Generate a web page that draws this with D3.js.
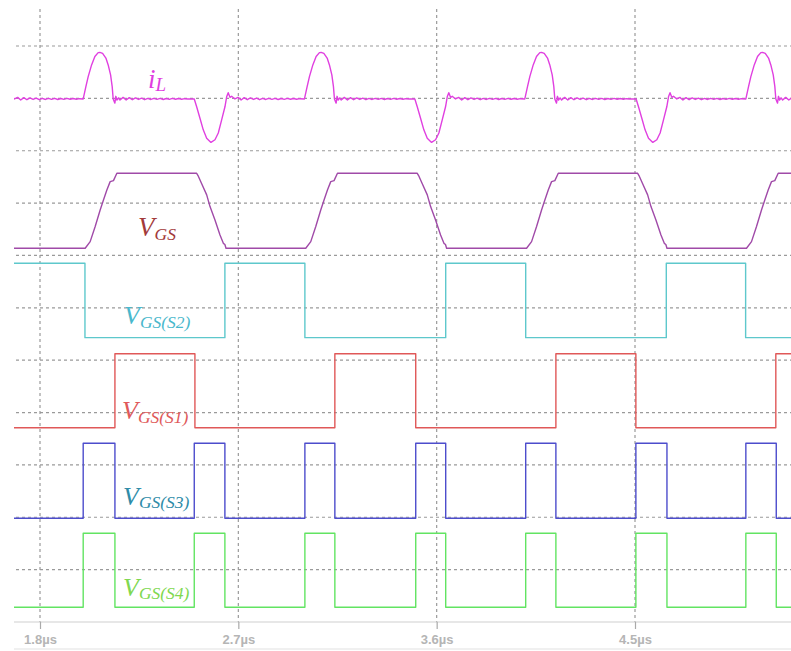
<!DOCTYPE html>
<html><head><meta charset="utf-8">
<script src="https://cdn.jsdelivr.net/npm/d3@7"></script>
<style>html,body{margin:0;padding:0;background:#fff;} svg{display:block;}</style>
</head><body>
<svg id="chart" width="791" height="651"></svg>
<script>
// ================= DATA (time in µs) =================
const timeRange = [1.682, 5.21];
const tickValues = [1.8, 2.7, 3.6, 4.5];
const tickLabels = ["1.8µs", "2.7µs", "3.6µs", "4.5µs"];
const gridDivisions = [1, 2, 3, 4, 5, 6, 7, 8, 9, 10, 11];

// gate signals: intervals where the signal is high
const s1High = [[2.140, 2.503], [3.138, 3.505], [4.141, 4.504], [5.139, 5.40]];
const s2High = [[1.600, 2.004], [2.639, 3.002], [3.641, 4.004], [4.642, 5.002]];
const s3High = [[1.996, 2.140], [2.500, 2.639], [3.002, 3.138], [3.505, 3.641], [4.004, 4.141], [4.504, 4.645], [5.003, 5.141]];
const s4High = [[1.996, 2.140], [2.500, 2.639], [3.002, 3.138], [3.505, 3.641], [4.004, 4.141], [4.504, 4.645], [5.003, 5.141]];

// VGS: edge start times and measured edge shapes [dt, fraction of high level]
const vgsRiseStart = [2.005, 3.006, 4.008, 5.006];
const vgsFallStart = [2.511, 3.512, 4.512];
const vgsRiseShape = [[0, 0], [0.0227, 0.089], [0.0454, 0.29], [0.068, 0.511], [0.083, 0.645], [0.0984, 0.778], [0.1134, 0.889], [0.1284, 0.902], [0.1438, 1]];
const vgsFallShape = [[0, 1], [0.006, 0.97], [0.0227, 0.86], [0.0454, 0.712], [0.0605, 0.556], [0.083, 0.378], [0.1058, 0.178], [0.121, 0.066], [0.128, 0.05], [0.133, 0]];

// iL: pulse start times and measured pulse shapes [dt, divisions]
const iLPosStart = [1.996, 3.000, 4.000, 5.003];
const iLNegStart = [1.500, 2.500, 3.501, 4.505];
const iLPosShape = [[0, 0], [0.0122, 0.235], [0.0227, 0.426], [0.0381, 0.65], [0.053, 0.81], [0.068, 0.885], [0.0758, 0.89], [0.0881, 0.87], [0.103, 0.78], [0.1134, 0.65], [0.1243, 0.46], [0.1316, 0.235], [0.1361, 0], [0.1438, -0.08], [0.148, 0.05], [0.153, -0.02], [0.16, 0.02], [0.167, -0.02]];
const iLNegShape = [[0, 0], [0.0109, -0.15], [0.0259, -0.37], [0.0408, -0.59], [0.0563, -0.75], [0.0758, -0.83], [0.094, -0.78], [0.109, -0.65], [0.1243, -0.40], [0.1393, -0.15], [0.147, 0.04], [0.154, 0.12], [0.162, 0.03], [0.1697, 0.05], [0.1846, 0]];
// residual ringing after each pulse (divisions)
const iLRing = [0.03, -0.02, 0.025, -0.015, 0.02, -0.01, 0.015, -0.015, 0.01, -0.01, 0.012,
                -0.008, 0.01, -0.01, 0.008, -0.008, 0.01, -0.006, 0.008, -0.006, 0.005, 0];

// ================= LAYOUT / STYLE =================
const plotLeft = 14, plotRight = 791, plotTop = 9, axisY = 622;
const ringStep = 0.014;
const channels = {
  iL:  {base: 9.989, amp: 1,     color: "#e040e0"},
  vgs: {base: 7.137, amp: 1.432, color: "#a04aa8"},
  s2:  {base: 5.430, amp: 1.421, color: "#5ec8cc"},
  s1:  {base: 3.711, amp: 1.413, color: "#e05858"},
  s3:  {base: 1.981, amp: 1.432, color: "#4d4dcc"},
  s4:  {base: 0.281, amp: 1.413, color: "#62e462"}
};

const svg = d3.select("#chart");
const x = d3.scaleLinear().domain([1.8, 4.5]).range([40, 635]);
const y = d3.scaleLinear().domain([0, 11]).range([axisY, 46]);

svg.append("defs").append("clipPath").attr("id", "clip")
  .append("rect").attr("x", plotLeft).attr("y", 0).attr("width", plotRight - plotLeft).attr("height", axisY);

// grid
const grid = svg.append("g");
grid.selectAll(".hg").data(gridDivisions).join("line")
  .attr("x1", plotLeft + 2).attr("x2", plotRight)
  .attr("y1", d => y(d)).attr("y2", d => y(d))
  .attr("stroke", "#9a9a9a").attr("stroke-width", 1.2).attr("stroke-dasharray", "3,3");
grid.selectAll(".vg").data(tickValues).join("line")
  .attr("x1", d => x(d)).attr("x2", d => x(d))
  .attr("y1", plotTop).attr("y2", axisY)
  .attr("stroke", "#9a9a9a").attr("stroke-width", 1.2).attr("stroke-dasharray", "3,3");

// axis
const axis = d3.axisBottom(x).tickValues(tickValues).tickFormat((d, i) => tickLabels[i]).tickSize(7).tickPadding(6);
const ax = svg.append("g").attr("transform", `translate(0,${axisY})`).call(axis);
ax.select(".domain").attr("d", `M${plotLeft},0H${plotRight}`).attr("stroke", "#cfcfcf").attr("stroke-width", 1.2);
ax.selectAll(".tick line").attr("stroke", "#aaaaaa").attr("stroke-width", 1.2);
ax.selectAll(".tick text").attr("fill", "#b5b5b5").attr("font-family", "'Liberation Sans', Arial, sans-serif")
  .attr("font-size", 13).attr("font-weight", "bold");
svg.append("line").attr("x1", plotLeft).attr("x2", plotRight).attr("y1", 649).attr("y2", 649)
  .attr("stroke", "#e2e2e2").attr("stroke-width", 1.2);

// waveform builders
function stepPts(intervals) {
  const [t0, t1] = timeRange;
  const inHigh = t => intervals.some(([a, b]) => t >= a && t < b);
  const pts = [[t0, inHigh(t0) ? 1 : 0]];
  intervals.forEach(([a, b]) => {
    if (a > t0 && a < t1) pts.push([a, 0], [a, 1]);
    if (b > t0 && b < t1) pts.push([b, 1], [b, 0]);
  });
  pts.push([t1, inHigh(t1) ? 1 : 0]);
  return pts;
}
function vgsPts() {
  const ev = [...vgsRiseStart.map(t => ({t, shape: vgsRiseShape})), ...vgsFallStart.map(t => ({t, shape: vgsFallShape}))]
    .sort((a, b) => a.t - b.t);
  const pts = [[timeRange[0], 0]];
  ev.forEach(e => e.shape.forEach(([dt, v]) => pts.push([e.t + dt, v])));
  pts.push([timeRange[1], pts[pts.length - 1][1]]);
  return pts;
}
function iLPts() {
  const ev = [...iLPosStart.map(t => ({t, shape: iLPosShape})), ...iLNegStart.map(t => ({t, shape: iLNegShape}))]
    .sort((a, b) => a.t - b.t);
  const pts = [];
  ev.forEach((e, i) => {
    const next = i < ev.length - 1 ? ev[i + 1].t : timeRange[1] + 0.1;
    e.shape.forEach(([dt, v]) => pts.push([e.t + dt, v]));
    const end = e.t + e.shape[e.shape.length - 1][0];
    iLRing.forEach((v, k) => {
      const t = end + (k + 1) * ringStep;
      if (t < next - 0.01) pts.push([t, v]);
    });
    pts.push([Math.min(next, timeRange[1] + 0.1), 0]);
  });
  return pts;
}

function drawTrace(pts, ch) {
  const line = d3.line().x(d => x(d[0])).y(d => y(ch.base + d[1] * ch.amp));
  svg.append("path").attr("clip-path", "url(#clip)").attr("d", line(pts))
    .attr("fill", "none").attr("stroke", ch.color).attr("stroke-width", 1.4).attr("stroke-linejoin", "round");
}

drawTrace(iLPts(), channels.iL);
drawTrace(vgsPts(), channels.vgs);
drawTrace(stepPts(s2High), channels.s2);
drawTrace(stepPts(s1High), channels.s1);
drawTrace(stepPts(s3High), channels.s3);
drawTrace(stepPts(s4High), channels.s4);

// labels
const serif = "'Liberation Serif', 'Times New Roman', serif";
function label(xp, yp, main, sub, color, size, subSize, dy) {
  const t = svg.append("text").attr("x", xp).attr("y", yp).attr("font-family", serif)
    .attr("font-style", "italic").attr("fill", color).attr("font-size", size);
  t.append("tspan").text(main);
  t.append("tspan").attr("font-size", subSize).attr("dy", dy).text(sub);
}
label(148, 88, "i", "L", "#e03ce0", 27, 19, 3);
label(138, 236, "V", "GS", "#a33a3a", 27, 17.5, 4);
label(124, 324, "V", "GS(S2)", "#4ab8cc", 26, 17.5, 4);
label(122, 419, "V", "GS(S1)", "#e05a5a", 26, 17.5, 4);
label(123, 505, "V", "GS(S3)", "#2f8ca8", 26, 17.5, 3);
label(123, 596, "V", "GS(S4)", "#80d850", 26, 17.5, 3);
</script>
</body></html>
